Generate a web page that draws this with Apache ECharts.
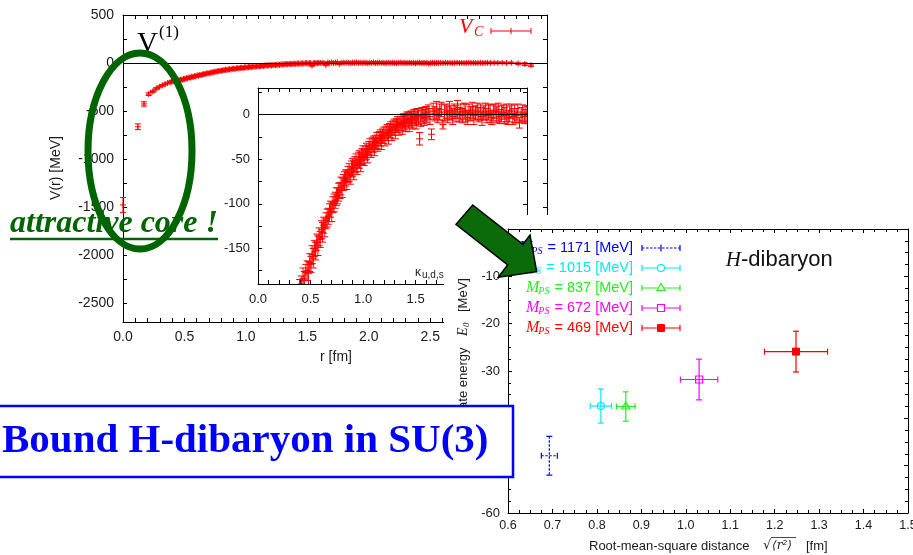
<!DOCTYPE html>
<html>
<head>
<meta charset="utf-8">
<script src="https://cdn.jsdelivr.net/npm/echarts@6/dist/echarts.min.js"></script>
<style>
  html, body { margin: 0; padding: 0; background: #fff; }
  #chart { width: 913px; height: 555px; }
</style>
</head>
<body>
<div id="chart"></div>
<script>
// ---------- Central potential V_C(r) : lattice r [fm], V [MeV], error [MeV] ----------
const rFm = [
  0.000, 0.121, 0.171, 0.209, 0.242, 0.270, 0.296, 0.320, 0.342, 0.363,
  0.383, 0.396, 0.412, 0.428, 0.441, 0.455, 0.468, 0.480, 0.492, 0.504,
  0.515, 0.526, 0.537, 0.548, 0.559, 0.570, 0.581, 0.592, 0.603, 0.614,
  0.625, 0.636, 0.647, 0.658, 0.669, 0.680, 0.691, 0.702, 0.713, 0.724,
  0.735, 0.746, 0.757, 0.768, 0.779, 0.790, 0.801, 0.812, 0.823, 0.834,
  0.845, 0.856, 0.867, 0.878, 0.889, 0.900, 0.911, 0.922, 0.933, 0.944,
  0.955, 0.966, 0.977, 0.988, 0.999,
  1.010, 1.021, 1.032, 1.043, 1.054, 1.065, 1.076, 1.087, 1.098, 1.109,
  1.120, 1.131, 1.142, 1.153, 1.164, 1.175, 1.186, 1.197, 1.208, 1.219,
  1.230, 1.241, 1.252, 1.263, 1.274, 1.285, 1.296, 1.307, 1.318, 1.329,
  1.340, 1.351, 1.362, 1.373, 1.384, 1.395, 1.406, 1.417, 1.428, 1.439,
  1.450, 1.461, 1.472, 1.483, 1.494, 1.505, 1.516, 1.527, 1.538, 1.549,
  1.560, 1.571, 1.582, 1.593,
  1.605, 1.620, 1.636, 1.651, 1.667, 1.682, 1.698, 1.713, 1.729, 1.744,
  1.760, 1.775, 1.791, 1.806, 1.822, 1.837, 1.853, 1.868, 1.884, 1.899,
  1.915, 1.930, 1.946, 1.961, 1.977, 1.992, 2.008, 2.023, 2.039, 2.054,
  2.070, 2.085, 2.101, 2.116, 2.132, 2.147, 2.163, 2.178, 2.194, 2.209,
  2.225, 2.240, 2.256, 2.271, 2.287, 2.302, 2.318, 2.333, 2.349, 2.364,
  2.380, 2.395, 2.411, 2.426, 2.442, 2.457, 2.473, 2.488, 2.504, 2.519,
  2.535, 2.550,
  2.566, 2.585, 2.604, 2.623, 2.642, 2.661, 2.680, 2.699, 2.718, 2.737,
  2.756, 2.775, 2.794, 2.813, 2.832, 2.851, 2.870, 2.889, 2.908, 2.927,
  2.946, 2.965, 2.990, 3.020, 3.050, 3.085, 3.120, 3.160, 3.215, 3.270, 3.320
];
const vcMeV = [
  -1480, -665, -427, -325, -297, -268, -249, -233, -221, -210,
  -201, -195, -190, -184, -186, -177, -175, -178, -166, -168,
  -157, -161, -150, -153, -143, -147, -137, -140, -129, -132,
  -124, -127, -119, -116, -114, -110, -106, -109, -101, -99,
  -96, -92, -91, -87, -85, -80, -82, -76, -74, -71,
  -73, -67, -65, -68, -61, -59, -62, -56, -54, -57,
  -51, -50, -53, -47, -45,
  -48, -43, -41, -44, -38, -36, -39, -34, -33, -36,
  -31, -29, -32, -27, -26, -29, -24, -23, -26, -21,
  -20, -23, -18, -17, -20, -15, -14, -17, -12, -11,
  -14, -10, -9, -12, -7, -8, -10, -5, -6, -9,
  -4, -5, -7, -2, -3, -6, -1, -2, -27, -4,
  0, -1, -3, 1,
  0, 3, -2, -22, 4, 1, 5, -1, 3, 6,
  -11, 2, 4, 0, 5, 2, -2, 4, 1, 6,
  0, 3, -1, 4, 2, -3, 3, 1, 5, -1,
  2, 4, 0, 3, -2, 2, 4, -1, 3, 1,
  -3, 2, 4, 0, 3, -2, 1, 3, -1, 2,
  -3, 1, 4, -2, 1, -1, 3, -9, 0, 2,
  -2, 1,
  0, 2, -1, 3, 0, 2, -2, 1, 3, 0,
  2, -1, 1, 3, 0, 2, -1, 1, 2, 0,
  1, 3, 0, 2, 1, 3, 0, 2, -5, -12, -22
];
const vcErr = [
  78, 30, 22, 14, 12, 11, 10, 9, 9, 8,
  9, 10, 9, 12, 10, 9, 11, 13, 10, 9,
  10, 11, 9, 10, 9, 11, 10, 9, 10, 11,
  9, 10, 9, 10, 9, 10, 9, 11, 9, 10,
  9, 10, 9, 10, 9, 10, 11, 9, 10, 9,
  11, 9, 10, 10, 9, 10, 11, 9, 10, 10,
  9, 10, 11, 9, 10,
  9, 8, 9, 10, 8, 9, 9, 8, 9, 10,
  8, 9, 9, 8, 9, 10, 8, 9, 9, 8,
  9, 10, 8, 9, 9, 8, 9, 10, 8, 9,
  9, 8, 9, 10, 8, 9, 9, 8, 9, 10,
  8, 9, 9, 8, 9, 10, 8, 9, 7, 9,
  8, 9, 9, 8,
  9, 8, 9, 6, 9, 8, 10, 8, 9, 8,
  5, 9, 8, 9, 10, 8, 9, 8, 9, 10,
  8, 9, 8, 9, 10, 8, 9, 8, 9, 10,
  8, 9, 8, 9, 10, 8, 9, 8, 9, 10,
  8, 9, 8, 9, 10, 8, 9, 8, 9, 10,
  8, 9, 8, 9, 10, 8, 9, 6, 8, 9,
  8, 9,
  9, 8, 9, 8, 9, 8, 9, 8, 9, 8,
  9, 8, 9, 8, 9, 8, 9, 8, 9, 8,
  9, 8, 9, 8, 9, 8, 9, 8, 12, 14, 14
];

// ---------- H-dibaryon ground state energy vs. rms distance ----------
const mpsMeV   = [1171, 1015, 837, 672, 469];
const rmsFm    = [0.693, 0.809, 0.865, 1.030, 1.248];
const rmsErrFm = [0.018, 0.024, 0.021, 0.042, 0.071];
const e0MeV    = [-47.9, -37.4, -37.5, -31.8, -25.9];
const e0ErrMeV = [4.1, 3.6, 3.1, 4.3, 4.3];

// ---------- tick labels ----------
const mainRLabels  = [0, 0.5, 1, 1.5, 2, 2.5, 3];
const mainVLabels  = [500, 0, -500, -1000, -1500, -2000, -2500];
const insetRLabels = [0, 0.5, 1, 1.5, 2, 2.5];
const insetVLabels = [0, -50, -100, -150];

const SANS = '"Liberation Sans", Arial, sans-serif';
const SERIF = '"Liberation Serif", "Times New Roman", serif';
const RED = '#ff0000';
const DKGREEN = '#006400';
const hColors  = ['#0000ff', '#00e8ff', '#22ee22', '#ff00ff', '#ff0000'];
const hMarkers = ['plus', 'circle', 'triangle', 'square', 'fsquare'];

function steps(a, b, s) {
  const out = [];
  for (let k = 0; a + k * s <= b + 1e-9; k++) out.push(+(a + k * s).toFixed(4));
  return out;
}
function line(x1, y1, x2, y2, style, z) {
  const el = { type: 'line', shape: { x1, y1, x2, y2 }, style };
  if (z != null) el.z = z;
  return el;
}
function markerEl(kind, cx, cy, col) {
  const st = { fill: 'none', stroke: col, lineWidth: 1.2 };
  if (kind === 'circle') return { type: 'circle', shape: { cx, cy, r: 3.5 }, style: st };
  if (kind === 'triangle') return { type: 'polygon', shape: { points: [[cx, cy - 4.5], [cx + 4, cy + 2.5], [cx - 4, cy + 2.5]] }, style: st };
  if (kind === 'square') return { type: 'rect', shape: { x: cx - 3.5, y: cy - 3.5, width: 7, height: 7 }, style: st };
  if (kind === 'fsquare') return { type: 'rect', shape: { x: cx - 3.5, y: cy - 3.5, width: 7, height: 7 }, style: { fill: col, stroke: col, lineWidth: 1 } };
  return null;
}

// vertical error bar with end caps and a '+' at the central value
function vcItem(capHalf, plusHalf) {
  return function (params, api) {
    const r = api.value(0), v = api.value(1), e = api.value(2);
    const c = api.coord([r, v]);
    const yt = api.coord([r, v + e])[1];
    const yb = api.coord([r, v - e])[1];
    const st = { stroke: RED, lineWidth: 1 };
    return {
      type: 'group',
      children: [
        line(c[0], yt, c[0], yb, st),
        line(c[0] - capHalf, yt, c[0] + capHalf, yt, st),
        line(c[0] - capHalf, yb, c[0] + capHalf, yb, st),
        line(c[0] - plusHalf, c[1], c[0] + plusHalf, c[1], st),
        line(c[0], c[1] - plusHalf, c[0], c[1] + plusHalf, st)
      ]
    };
  };
}

// x and y error bars for one H-dibaryon point
function hItem(i) {
  const col = hColors[i];
  return function (params, api) {
    const x = api.value(0), y = api.value(1), dx = api.value(2), dy = api.value(3);
    const c = api.coord([x, y]);
    const xl = api.coord([x - dx, y])[0], xr = api.coord([x + dx, y])[0];
    const yt = api.coord([x, y + dy])[1], yb = api.coord([x, y - dy])[1];
    const st = { stroke: col, lineWidth: 1.2 };
    if (i === 0) st.lineDash = [2.5, 1.5];
    const cap = { stroke: col, lineWidth: 1.2 };
    const kids = [
      line(xl, c[1], xr, c[1], st), line(c[0], yt, c[0], yb, st),
      line(xl, c[1] - 3, xl, c[1] + 3, cap), line(xr, c[1] - 3, xr, c[1] + 3, cap),
      line(c[0] - 3, yt, c[0] + 3, yt, cap), line(c[0] - 3, yb, c[0] + 3, yb, cap)
    ];
    const m = markerEl(hMarkers[i], c[0], c[1], col);
    if (m) kids.push(m);
    return { type: 'group', children: kids };
  };
}

function frameAxis(gridIndex, position, cfg, showLabels, z) {
  const a = {
    type: 'value', gridIndex, position, min: cfg.min, max: cfg.max, z: z || 0,
    axisLine: { show: true, onZero: false, lineStyle: { color: '#000', width: 1 } },
    axisTick: { show: true, inside: true, length: 4, lineStyle: { color: '#000', width: 1 } },
    axisLabel: {
      show: showLabels, color: '#1a1a1a', fontFamily: SANS,
      fontSize: cfg.fontSize, margin: cfg.margin, formatter: cfg.fmt
    },
    splitLine: { show: false }
  };
  if (cfg.interval) {
    a.interval = cfg.interval;
    a.minorTick = { show: true, splitNumber: cfg.minor, length: 3, lineStyle: { color: '#000', width: 1 } };
  } else {
    a.axisTick.customValues = cfg.ticks;
    a.axisLabel.customValues = cfg.labels;
  }
  return a;
}

const fmt1 = v => v.toFixed(1);
const fmt0 = v => String(Math.round(v));

const mainX = { min: 0, max: 3.45, ticks: steps(0, 3.4, 0.1), labels: mainRLabels, fmt: fmt1, fontSize: 14, margin: 8 };
const mainY = { min: -2700, max: 500, ticks: steps(-2500, 500, 250), labels: mainVLabels, fmt: fmt0, fontSize: 14, margin: 9 };
const insX  = { min: 0, max: 2.56, ticks: steps(0, 2.5, 0.1), labels: insetRLabels, fmt: fmt1, fontSize: 13, margin: 9 };
const insY  = { min: -190, max: 30, ticks: steps(-175, 25, 25), labels: insetVLabels, fmt: fmt0, fontSize: 13, margin: 8 };
const hX    = { min: 0.6, max: 1.5, interval: 0.1, minor: 4, fmt: fmt1, fontSize: 12.5, margin: 6 };
const hY    = { min: -60, max: 0, interval: 10, minor: 4, fmt: fmt0, fontSize: 13, margin: 8 };

const vcData = rFm.map((r, i) => [r, vcMeV[i], vcErr[i]]);

const zeroLine = {
  silent: true, symbol: ['none', 'none'], animation: false,
  label: { show: false },
  lineStyle: { color: '#000', width: 1, type: 'solid' },
  emphasis: { disabled: true },
  data: [{ yAxis: 0 }]
};

const series = [
  {
    type: 'custom', name: 'V_C', xAxisIndex: 0, yAxisIndex: 0, data: vcData,
    encode: { x: 0, y: 1 }, renderItem: vcItem(3, 3), clip: false, z: 2, markLine: zeroLine
  },
  {
    type: 'custom', name: 'V_C inset', xAxisIndex: 2, yAxisIndex: 2, data: vcData,
    encode: { x: 0, y: 1 }, renderItem: vcItem(3.5, 3.5), clip: true, z: 2, markLine: zeroLine
  }
];
mpsMeV.forEach((m, i) => {
  series.push({
    type: 'custom', name: 'M_PS = ' + m, xAxisIndex: 4, yAxisIndex: 4,
    data: [[rmsFm[i], e0MeV[i], rmsErrFm[i], e0ErrMeV[i]]],
    encode: { x: 0, y: 1 }, renderItem: hItem(i), clip: false, z: 6
  });
});

// text measuring for the legend layout
const ctx = document.createElement('canvas').getContext('2d');
function textW(str, font) { ctx.font = font; return ctx.measureText(str).width; }

function txt(x, y, text, font, fill, align, z, rotation) {
  const el = {
    type: 'text', x, y, z: z || 6,
    style: {
      text, font, fill,
      align: align || 'left', verticalAlign: 'middle',
      textAlign: align || 'left', textVerticalAlign: 'middle'
    }
  };
  if (rotation) el.rotation = rotation;
  return el;
}

const gfx = [];
// white panel holding the H-dibaryon plot
gfx.push({ type: 'rect', shape: { x: 444, y: 215, width: 469, height: 340 }, style: { fill: '#fff' }, z: 3 });

// main plot: axis names, key, V^(1)
gfx.push(txt(336, 357, 'r [fm]', '14px ' + SANS, '#1a1a1a', 'center', 1));
gfx.push(txt(56, 168, 'V(r) [MeV]', '14px ' + SANS, '#1a1a1a', 'center', 1, Math.PI / 2));
gfx.push(txt(459, 27.5, 'V', 'italic 22px ' + SERIF, RED, 'left', 1));
gfx.push(txt(474, 32.5, 'C', 'italic 14px ' + SERIF, RED, 'left', 1));
{
  const ks = { stroke: RED, lineWidth: 1 };
  gfx.push(line(491, 31, 531, 31, ks, 1));
  gfx.push(line(491, 28, 491, 34, ks, 1));
  gfx.push(line(531, 28, 531, 34, ks, 1));
  gfx.push(line(511, 28, 511, 34, ks, 1));
}
gfx.push(txt(137, 44, 'V', '29px ' + SERIF, '#000', 'left', 1));
gfx.push(txt(159, 33, '(1)', '17px ' + SERIF, '#000', 'left', 1));
// inset key fragment
gfx.push(txt(415, 273, 'κ', '12px ' + SANS, '#1a1a1a', 'left', 1));
gfx.push(txt(422, 275, 'u,d,s', '10px ' + SANS, '#1a1a1a', 'left', 1));

// H-dibaryon panel: axis names, title, key
gfx.push(txt(589, 546, 'Root-mean-square distance', '13px ' + SANS, '#1a1a1a', 'left', 6));
gfx.push(txt(763, 546, '√', '13px "DejaVu Sans"', '#1a1a1a', 'left', 6));
gfx.push(txt(772, 546, '⟨r²⟩', 'italic 12px "DejaVu Serif"', '#1a1a1a', 'left', 6));
gfx.push(line(771, 537.5, 796, 537.5, { stroke: '#1a1a1a', lineWidth: 0.8 }, 6));
gfx.push(txt(806, 546, '[fm]', '13px ' + SANS, '#1a1a1a', 'left', 6));

gfx.push(txt(463, 466, 'Ground state energy', '13px ' + SANS, '#1a1a1a', 'left', 6, Math.PI / 2));
gfx.push(txt(463, 336, 'E', 'italic 14px ' + SERIF, '#1a1a1a', 'left', 6, Math.PI / 2));
gfx.push(txt(467, 327, '0', 'italic 9px ' + SERIF, '#1a1a1a', 'left', 6, Math.PI / 2));
gfx.push(txt(463, 312, '[MeV]', '13px ' + SANS, '#1a1a1a', 'left', 6, Math.PI / 2));

gfx.push(txt(741, 260, 'H', 'italic 21px ' + SERIF, '#111', 'right', 6));
gfx.push(txt(741, 260, '-dibaryon', '22px ' + SANS, '#111', 'left', 6));

const rowY = [248, 268, 288, 308, 328];
mpsMeV.forEach((m, i) => {
  const y = rowY[i], col = hColors[i];
  const restFont = '14.5px ' + SANS;
  const rest = '= ' + m + ' [MeV]';
  const restStart = 633 - textW(rest, restFont);
  const psFont = 'italic 10px ' + SERIF;
  const mFont = 'italic 16px ' + SERIF;
  const psRight = restStart - 5;
  const mRight = psRight - textW('PS', psFont) + 1;
  gfx.push(txt(633, y, rest, restFont, col, 'right', 7));
  gfx.push(txt(psRight, y + 3.5, 'PS', psFont, col, 'right', 7));
  gfx.push(txt(mRight, y, 'M', mFont, col, 'right', 7));
  const st = { stroke: col, lineWidth: 1.2 };
  const sl = { stroke: col, lineWidth: 1.2 };
  if (i === 0) sl.lineDash = [2.5, 1.5];
  gfx.push(line(642, y, 680, y, sl, 7));
  gfx.push(line(642, y - 3, 642, y + 3, st, 7));
  gfx.push(line(680, y - 3, 680, y + 3, st, 7));
  if (i === 0) gfx.push(line(661, y - 3.5, 661, y + 3.5, st, 7));
  const mk = markerEl(hMarkers[i], 661, y, col);
  if (mk) { mk.z = 7; if (mk.style.fill === 'none') mk.style.fill = '#fff'; gfx.push(mk); }
});

// green arrow
gfx.push({
  type: 'polygon', z: 10,
  shape: { points: [[472.7, 205], [522.9, 244.4], [530, 235], [536.7, 271.7], [498.3, 277.3], [507.7, 264.8], [456, 224.3]] },
  style: { fill: '#0b6b0b', stroke: '#000', lineWidth: 1.5, lineJoin: 'miter' }
});

// boxed caption
gfx.push({ type: 'rect', z: 10, shape: { x: -3, y: 406, width: 516, height: 71 }, style: { fill: '#fff', stroke: '#0000ff', lineWidth: 2.5 } });
gfx.push(txt(2, 441, 'Bound H-dibaryon in SU(3)', 'bold 41px ' + SERIF, '#0000ff', 'left', 11));

// attractive core annotation
gfx.push(txt(10, 224, 'attractive core !', 'italic bold 32px ' + SERIF, DKGREEN, 'left', 11));
gfx.push(line(10, 239, 218, 239, { stroke: DKGREEN, lineWidth: 2.5 }, 11));
gfx.push({ type: 'ellipse', z: 12, shape: { cx: 140, cy: 151, rx: 52, ry: 98 }, style: { fill: 'none', stroke: DKGREEN, lineWidth: 7 } });

const option = {
  animation: false,
  backgroundColor: '#fff',
  grid: [
    { left: 123, top: 15, width: 424, height: 307, outerBoundsMode: 'none' },
    { left: 258, top: 88, width: 269, height: 196, show: true, backgroundColor: '#fff', borderWidth: 0, outerBoundsMode: 'none' },
    { left: 508, top: 229, width: 400, height: 284, outerBoundsMode: 'none' }
  ],
  xAxis: [
    frameAxis(0, 'bottom', mainX, true),
    frameAxis(0, 'top', mainX, false),
    frameAxis(1, 'bottom', insX, true),
    frameAxis(1, 'top', insX, false),
    frameAxis(2, 'bottom', hX, true, 5),
    frameAxis(2, 'top', hX, false, 5)
  ],
  yAxis: [
    frameAxis(0, 'left', mainY, true),
    frameAxis(0, 'right', mainY, false),
    frameAxis(1, 'left', insY, true),
    frameAxis(1, 'right', insY, false),
    frameAxis(2, 'left', hY, true, 5),
    frameAxis(2, 'right', hY, false, 5)
  ],
  series,
  graphic: { elements: gfx }
};

const chart = echarts.init(document.getElementById('chart'), null, { renderer: 'canvas' });
chart.setOption(option);
</script>
</body>
</html>
